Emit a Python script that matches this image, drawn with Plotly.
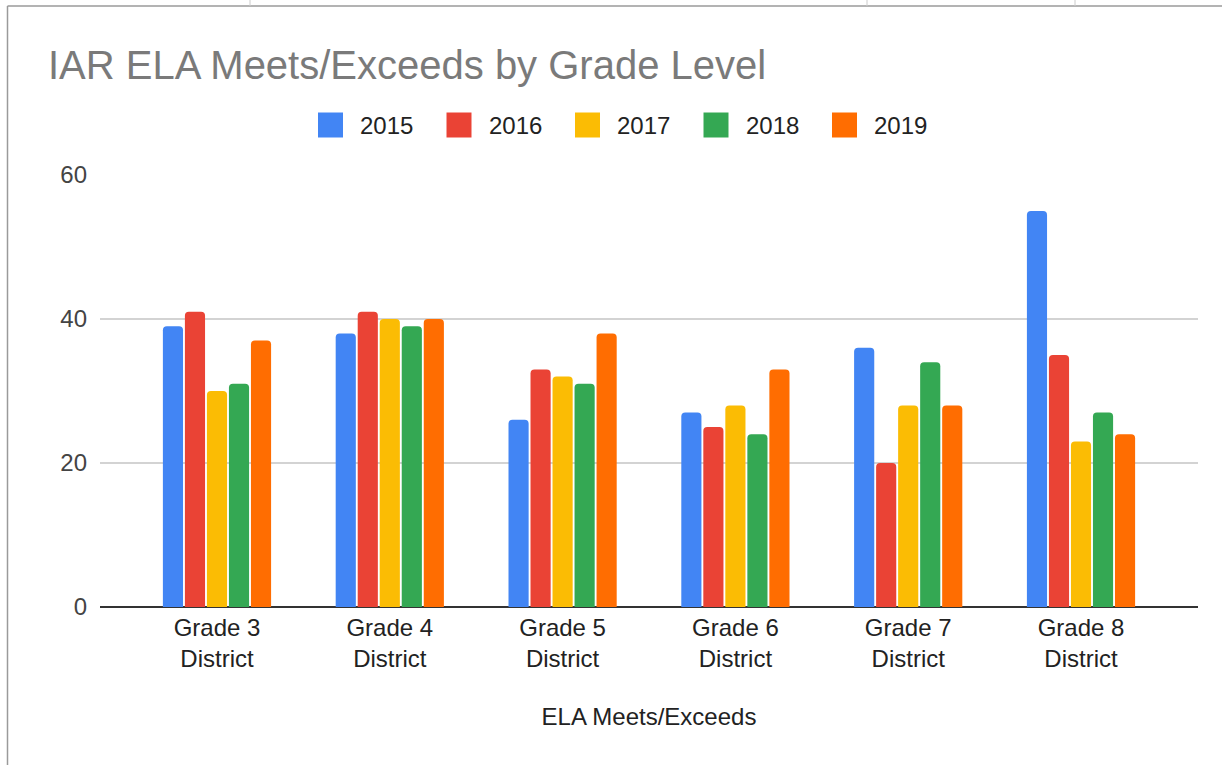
import plotly.graph_objects as go

# ---- data ----
categories = ["Grade 3<br>District", "Grade 4<br>District", "Grade 5<br>District",
              "Grade 6<br>District", "Grade 7<br>District", "Grade 8<br>District"]
years = ["2015", "2016", "2017", "2018", "2019"]
v2015 = [39, 38, 26, 27, 36, 55]
v2016 = [41, 41, 33, 25, 20, 35]
v2017 = [30, 40, 32, 28, 28, 23]
v2018 = [31, 39, 31, 24, 34, 27]
v2019 = [37, 40, 38, 33, 28, 24]
series = [v2015, v2016, v2017, v2018, v2019]
colors = ["#4285F4", "#EA4335", "#FBBC04", "#34A853", "#FF6D01"]

FONT = "Liberation Sans, Arial, sans-serif"
W, H = 1222, 765
L, R, T, B = 100, 24, 175, 158
pw, ph = W - L - R, H - T - B


def px_x(px):
    return (px - L) / pw


def px_y(py):
    return (H - B - py) / ph


fig = go.Figure()
for name, vals, col in zip(years, series, colors):
    fig.add_trace(go.Bar(x=list(range(len(categories))), y=vals, name=name,
                         marker=dict(color=col, line=dict(width=0)),
                         showlegend=False))

shapes = []
annotations = []
# manual legend (large squares like the original)
leg_x0, leg_pitch, leg_y = 318, 128.5, 125
for i, (name, col) in enumerate(zip(years, colors)):
    x0 = leg_x0 + i * leg_pitch
    shapes.append(dict(type="rect", xref="paper", yref="paper",
                       x0=px_x(x0), x1=px_x(x0 + 25),
                       y0=px_y(leg_y + 12.5), y1=px_y(leg_y - 12.5),
                       fillcolor=col, line=dict(width=0), layer="above"))
    annotations.append(dict(xref="paper", yref="paper", x=px_x(x0 + 40), y=px_y(leg_y),
                            xanchor="left", yanchor="middle", text=name, showarrow=False,
                            font=dict(family=FONT, size=24, color="#222222")))

# frame of the embedding sheet
frame_col = "#9a9a9a"
shapes.append(dict(type="line", xref="paper", yref="paper",
                   x0=px_x(7.5), x1=px_x(W + 5), y0=px_y(6), y1=px_y(6),
                   line=dict(color=frame_col, width=1.5)))
shapes.append(dict(type="line", xref="paper", yref="paper",
                   x0=px_x(7.5), x1=px_x(7.5), y0=px_y(6), y1=px_y(H + 5),
                   line=dict(color=frame_col, width=1.5)))
for tx in [250, 867, 1075]:
    shapes.append(dict(type="line", xref="paper", yref="paper",
                       x0=px_x(tx), x1=px_x(tx), y0=px_y(0), y1=px_y(6),
                       line=dict(color="#cccccc", width=1)))

fig.update_layout(
    width=W, height=H,
    margin=dict(l=L, r=R, t=T, b=B, pad=0),
    paper_bgcolor="white", plot_bgcolor="white",
    font=dict(family=FONT, size=24, color="#222222"),
    title=dict(text="IAR ELA Meets/Exceeds by Grade Level",
               font=dict(family=FONT, size=40, color="#7a7a7a"),
               xref="container", yref="container",
               x=48 / W, xanchor="left", y=1 - 65 / H, yanchor="middle"),
    barmode="group", bargap=0.363, bargroupgap=0.085,
    barcornerradius=4,
    xaxis=dict(tickmode="array", tickvals=list(range(len(categories))), ticktext=categories,
               range=[-0.677, len(categories) - 1 + 0.677],
               showgrid=False, zeroline=False, showline=False, ticks="",
               ticklabelstandoff=4,
               tickfont=dict(family=FONT, size=24, color="#222222"),
               title=dict(text="ELA Meets/Exceeds", standoff=36,
                          font=dict(family=FONT, size=24, color="#222222"))),
    yaxis=dict(range=[0, 60], tickvals=[0, 20, 40, 60],
               showgrid=True, gridcolor="#d3d3d3", gridwidth=1.5,
               zeroline=True, zerolinecolor="#333333", zerolinewidth=2,
               showline=False, ticks="", ticklabelstandoff=12,
               tickfont=dict(family=FONT, size=24, color="#444444")),
    shapes=shapes, annotations=annotations,
)

fig.write_html("out.html", config={"displayModeBar": False},
               post_script="document.body.style.margin='0';document.body.style.overflow='hidden';")
